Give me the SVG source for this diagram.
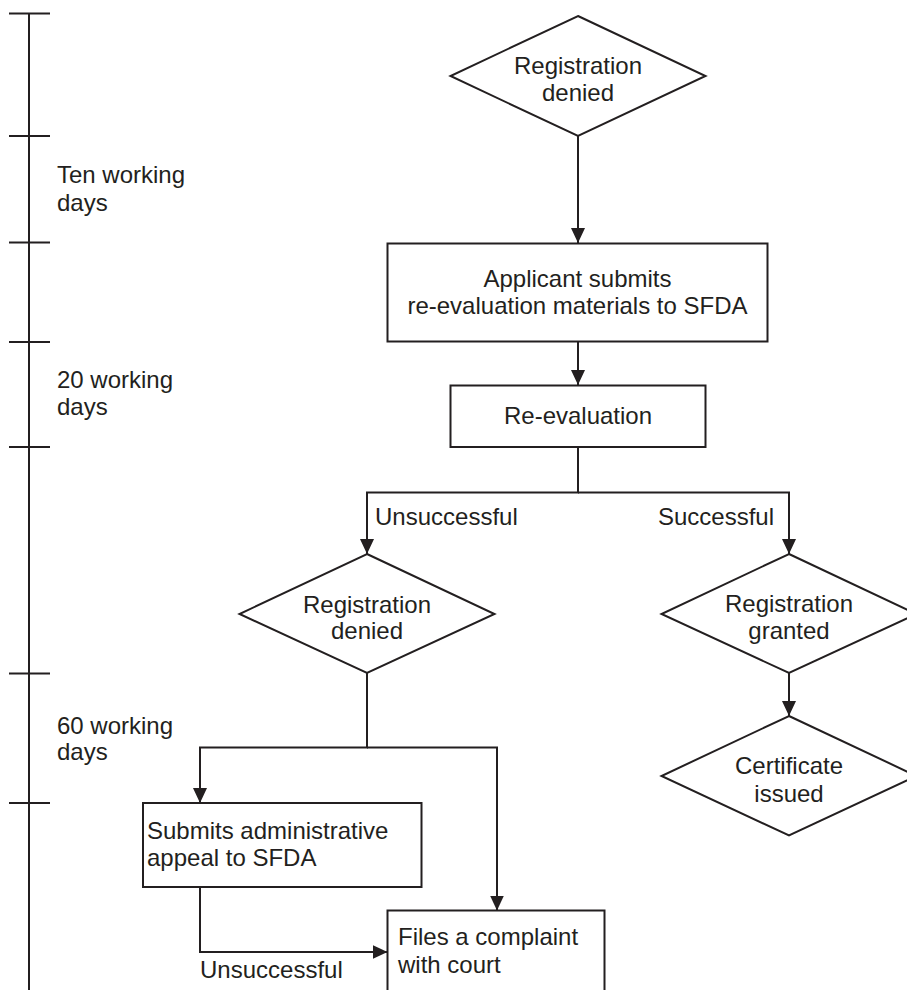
<svg xmlns="http://www.w3.org/2000/svg" width="907" height="990" viewBox="0 0 907 990">
  <style>
    .shape { fill: #ffffff; stroke: #231f20; stroke-width: 2; }
    .wire { fill: none; stroke: #231f20; stroke-width: 2; }
    .scale { fill: none; stroke: #231f20; stroke-width: 2; }
    text { font-family: "Liberation Sans", Arial, Helvetica, sans-serif; font-size: 24px; fill: #231f20; }
    .c { text-anchor: middle; }
    .e { text-anchor: end; }
  </style>
  <defs>
    <marker id="arrow" markerUnits="userSpaceOnUse" markerWidth="15" markerHeight="14" refX="15" refY="7" orient="auto">
      <path d="M0,0 L15,7 L0,14 z" fill="#231f20"/>
    </marker>
  </defs>

  <rect width="907" height="990" fill="#ffffff"/>

  <!-- time scale on the left -->
  <g id="timescale">
    <path class="scale" d="M29,13.5 V990 M9,13.5 H50 M9,136 H50 M9,242.5 H50 M9,342 H50 M9,447 H50 M9,673.5 H50 M9,803 H50"/>
    <text x="57" y="183">Ten working</text>
    <text x="57" y="210.5">days</text>
    <text x="57" y="388">20 working</text>
    <text x="57" y="415">days</text>
    <text x="57" y="734">60 working</text>
    <text x="57" y="760">days</text>
  </g>

  <!-- connectors -->
  <g id="connectors">
    <path class="wire" d="M578,136 V243" marker-end="url(#arrow)"/>
    <path class="wire" d="M578,341.5 V385" marker-end="url(#arrow)"/>
    <path class="wire" d="M578,447 V492.5 H367 V554" marker-end="url(#arrow)"/>
    <path class="wire" d="M578,492.5 H789 V554" marker-end="url(#arrow)"/>
    <path class="wire" d="M789,673 V716" marker-end="url(#arrow)"/>
    <path class="wire" d="M367,673 V747.5 H200 V803" marker-end="url(#arrow)"/>
    <path class="wire" d="M367,747.5 H497 V910.5" marker-end="url(#arrow)"/>
    <path class="wire" d="M200,887 V952 H387.5" marker-end="url(#arrow)"/>
    <text x="375" y="525">Unsuccessful</text>
    <text class="e" x="774" y="525">Successful</text>
    <text x="200" y="978">Unsuccessful</text>
  </g>

  <g id="denied-first">
    <polygon class="shape" points="578,16 705.5,76 578,136 450.5,76"/>
    <text class="c" x="578" y="74">Registration</text>
    <text class="c" x="578" y="100.5">denied</text>
  </g>

  <g id="submit-materials">
    <rect class="shape" x="387.5" y="243.5" width="380" height="98"/>
    <text class="c" x="577.5" y="287">Applicant submits</text>
    <text class="c" x="577.5" y="314">re-evaluation materials to SFDA</text>
  </g>

  <g id="re-evaluation">
    <rect class="shape" x="450.5" y="385.5" width="255" height="61.5"/>
    <text class="c" x="578" y="424">Re-evaluation</text>
  </g>

  <g id="denied-second">
    <polygon class="shape" points="367,554 494.5,614 367,673 239.5,614"/>
    <text class="c" x="367" y="612.5">Registration</text>
    <text class="c" x="367" y="639">denied</text>
  </g>

  <g id="granted">
    <polygon class="shape" points="789,554 916.5,614 789,673 661.5,614"/>
    <text class="c" x="789" y="612">Registration</text>
    <text class="c" x="789" y="639">granted</text>
  </g>

  <g id="certificate">
    <polygon class="shape" points="789,716 916.5,776 789,835.5 661.5,776"/>
    <text class="c" x="789" y="774">Certificate</text>
    <text class="c" x="789" y="801.5">issued</text>
  </g>

  <g id="admin-appeal">
    <rect class="shape" x="143" y="803" width="278.5" height="84"/>
    <text x="147" y="839">Submits administrative</text>
    <text x="147" y="866">appeal to SFDA</text>
  </g>

  <g id="court-complaint">
    <rect class="shape" x="387.5" y="910.5" width="217" height="95"/>
    <text x="398" y="945">Files a complaint</text>
    <text x="398" y="973">with court</text>
  </g>
</svg>
